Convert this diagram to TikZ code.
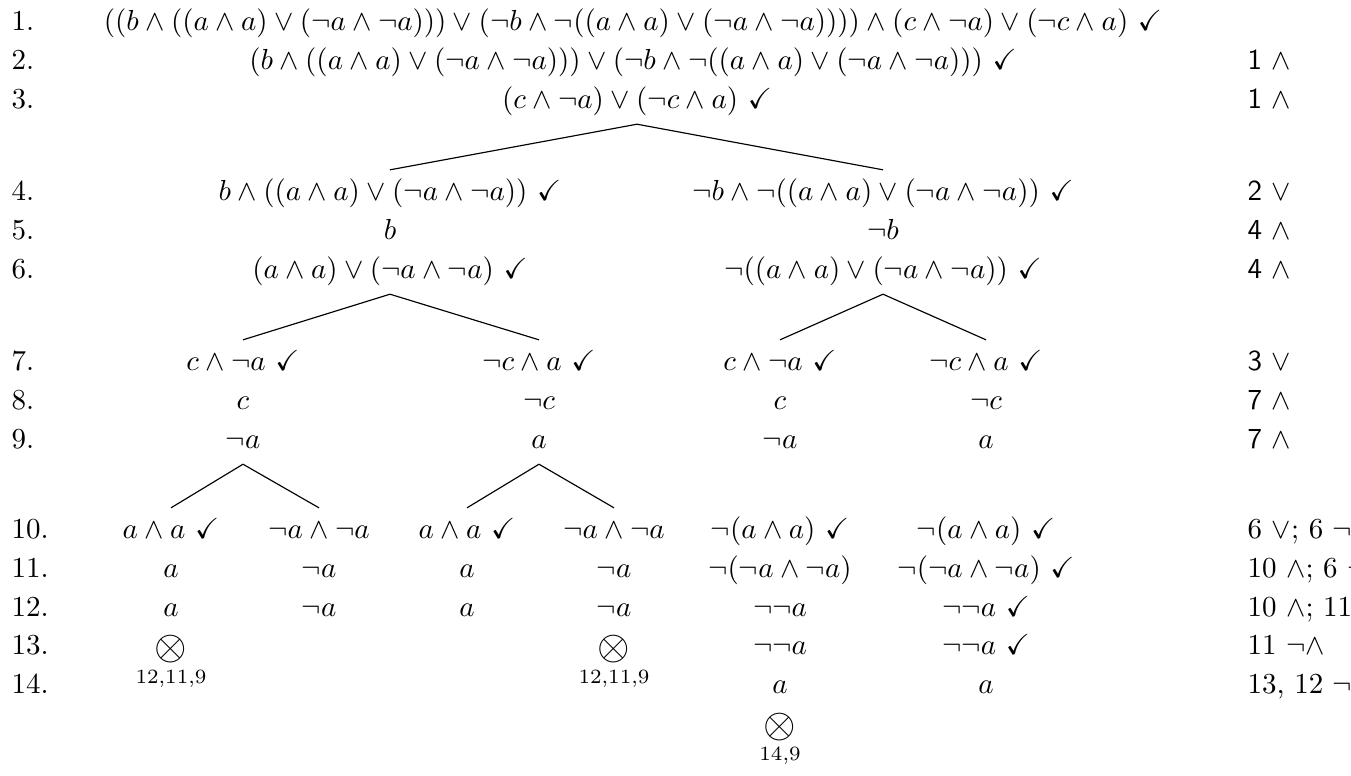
\documentclass[tikz,border=0pt]{standalone}
\usepackage{amssymb}

\begin{document}
\begin{tikzpicture}[x=3.45pt, y=-3.45pt,
  fml/.style={inner sep=0pt, outer ysep=3pt, text height=0.75em, text depth=0.25em},
  rownum/.style={anchor=west, inner sep=0pt, text height=0.75em, text depth=0.25em},
  rulebox/.style={anchor=west, inner sep=0pt, text height=0.75em, text depth=0.25em},
  closed/.style={inner sep=0pt, font=\Large},
  refs/.style={inner sep=0pt, font=\scriptsize}]

\useasboundingbox (0,0) rectangle (135.1,77.5);

%%%%%%%%%%%%%%%%%%%%%%%%%%%%%%%%%%%%%%%%%%%%%%%%%%%%%%%%%%%%%%%%
% Line numbers
%%%%%%%%%%%%%%%%%%%%%%%%%%%%%%%%%%%%%%%%%%%%%%%%%%%%%%%%%%%%%%%%

\node[rownum] (num1) at (1.1,2.3) {1.};
\node[rownum] (num2) at (1.1,6.2) {2.};
\node[rownum] (num3) at (1.1,10.1) {3.};
\node[rownum] (num4) at (1.1,19.3) {4.};
\node[rownum] (num5) at (1.1,23.2) {5.};
\node[rownum] (num6) at (1.1,27.1) {6.};
\node[rownum] (num7) at (1.1,36.3) {7.};
\node[rownum] (num8) at (1.1,40.2) {8.};
\node[rownum] (num9) at (1.1,44.1) {9.};
\node[rownum] (num10) at (1.1,53.1) {10.};
\node[rownum] (num11) at (1.1,57.0) {11.};
\node[rownum] (num12) at (1.1,60.9) {12.};
\node[rownum] (num13) at (1.1,64.7) {13.};
\node[rownum] (num14) at (1.1,68.6) {14.};

%%%%%%%%%%%%%%%%%%%%%%%%%%%%%%%%%%%%%%%%%%%%%%%%%%%%%%%%%%%%%%%%
% Trunk (lines 1-3)
%%%%%%%%%%%%%%%%%%%%%%%%%%%%%%%%%%%%%%%%%%%%%%%%%%%%%%%%%%%%%%%%

\node[fml] (t1) at (63.3,2.3) {$((b \wedge ((a \wedge a) \vee (\neg a \wedge \neg a))) \vee (\neg b \wedge \neg((a \wedge a) \vee (\neg a \wedge \neg a)))) \wedge (c \wedge \neg a) \vee (\neg c \wedge a)\ \checkmark$};
\node[fml] (t2) at (63.3,6.2) {$(b \wedge ((a \wedge a) \vee (\neg a \wedge \neg a))) \vee (\neg b \wedge \neg((a \wedge a) \vee (\neg a \wedge \neg a)))\ \checkmark$};
\node[fml] (t3) at (63.7,10.1) {$(c \wedge \neg a) \vee (\neg c \wedge a)\ \checkmark$};

%%%%%%%%%%%%%%%%%%%%%%%%%%%%%%%%%%%%%%%%%%%%%%%%%%%%%%%%%%%%%%%%
% First split (lines 4-6)
%%%%%%%%%%%%%%%%%%%%%%%%%%%%%%%%%%%%%%%%%%%%%%%%%%%%%%%%%%%%%%%%

\node[fml] (l4) at (39.0,19.3) {$b \wedge ((a \wedge a) \vee (\neg a \wedge \neg a))\ \checkmark$};
\node[fml] (l5) at (39.0,23.2) {$b$};
\node[fml] (l6) at (39.0,27.1) {$(a \wedge a) \vee (\neg a \wedge \neg a)\ \checkmark$};

\node[fml] (r4) at (88.3,19.3) {$\neg b \wedge \neg((a \wedge a) \vee (\neg a \wedge \neg a))\ \checkmark$};
\node[fml] (r5) at (88.3,23.2) {$\neg b$};
\node[fml] (r6) at (88.3,27.1) {$\neg((a \wedge a) \vee (\neg a \wedge \neg a))\ \checkmark$};

% Edges
\draw (t3.south) -- (l4.north);
\draw (t3.south) -- (r4.north);

%%%%%%%%%%%%%%%%%%%%%%%%%%%%%%%%%%%%%%%%%%%%%%%%%%%%%%%%%%%%%%%%
% Second split (lines 7-9)
%%%%%%%%%%%%%%%%%%%%%%%%%%%%%%%%%%%%%%%%%%%%%%%%%%%%%%%%%%%%%%%%

\node[fml] (ll7) at (24.3,36.3) {$c \wedge \neg a\ \checkmark$};
\node[fml] (ll8) at (24.3,40.2) {$c$};
\node[fml] (ll9) at (24.3,44.1) {$\neg a$};

\node[fml] (lr7) at (53.9,36.3) {$\neg c \wedge a\ \checkmark$};
\node[fml] (lr8) at (53.9,40.2) {$\neg c$};
\node[fml] (lr9) at (53.9,44.1) {$a$};

\node[fml] (rl7) at (78.0,36.3) {$c \wedge \neg a\ \checkmark$};
\node[fml] (rl8) at (78.0,40.2) {$c$};
\node[fml] (rl9) at (78.0,44.1) {$\neg a$};

\node[fml] (rr7) at (98.6,36.3) {$\neg c \wedge a\ \checkmark$};
\node[fml] (rr8) at (98.6,40.2) {$\neg c$};
\node[fml] (rr9) at (98.6,44.1) {$a$};

% Edges
\draw (l6.south) -- (ll7.north);
\draw (l6.south) -- (lr7.north);
\draw (r6.south) -- (rl7.north);
\draw (r6.south) -- (rr7.north);

%%%%%%%%%%%%%%%%%%%%%%%%%%%%%%%%%%%%%%%%%%%%%%%%%%%%%%%%%%%%%%%%
% Third split (lines 10-14)
%%%%%%%%%%%%%%%%%%%%%%%%%%%%%%%%%%%%%%%%%%%%%%%%%%%%%%%%%%%%%%%%

% under c, not a
\node[fml] (b1_10) at (17.1,53.1) {$a \wedge a\ \checkmark$};
\node[fml] (b1_11) at (17.1,57.0) {$a$};
\node[fml] (b1_12) at (17.1,60.9) {$a$};
\node[closed] (b1_x) at (17.1,64.9) {$\otimes$};
\node[refs] (b1_ref) at (17.1,67.9) {12,11,9};

\node[fml] (b2_10) at (31.9,53.1) {$\neg a \wedge \neg a$};
\node[fml] (b2_11) at (31.9,57.0) {$\neg a$};
\node[fml] (b2_12) at (31.9,60.9) {$\neg a$};

% under not c, a
\node[fml] (b3_10) at (46.7,53.1) {$a \wedge a\ \checkmark$};
\node[fml] (b3_11) at (46.7,57.0) {$a$};
\node[fml] (b3_12) at (46.7,60.9) {$a$};

\node[fml] (b4_10) at (61.4,53.1) {$\neg a \wedge \neg a$};
\node[fml] (b4_11) at (61.4,57.0) {$\neg a$};
\node[fml] (b4_12) at (61.4,60.9) {$\neg a$};
\node[closed] (b4_x) at (61.4,64.9) {$\otimes$};
\node[refs] (b4_ref) at (61.4,67.9) {12,11,9};

% right half, no split
\node[fml] (b5_10) at (78.0,53.1) {$\neg(a \wedge a)\ \checkmark$};
\node[fml] (b5_11) at (78.0,57.0) {$\neg(\neg a \wedge \neg a)$};
\node[fml] (b5_12) at (78.0,60.9) {$\neg\neg a$};
\node[fml] (b5_13) at (78.0,64.7) {$\neg\neg a$};
\node[fml] (b5_14) at (78.0,68.6) {$a$};
\node[closed] (b5_x) at (78.0,72.7) {$\otimes$};
\node[refs] (b5_ref) at (78.0,75.6) {14,9};

\node[fml] (b6_10) at (98.6,53.1) {$\neg(a \wedge a)\ \checkmark$};
\node[fml] (b6_11) at (98.6,57.0) {$\neg(\neg a \wedge \neg a)\ \checkmark$};
\node[fml] (b6_12) at (98.6,60.9) {$\neg\neg a\ \checkmark$};
\node[fml] (b6_13) at (98.6,64.7) {$\neg\neg a\ \checkmark$};
\node[fml] (b6_14) at (98.6,68.6) {$a$};

% Edges
\draw (ll9.south) -- (b1_10.north);
\draw (ll9.south) -- (b2_10.north);
\draw (lr9.south) -- (b3_10.north);
\draw (lr9.south) -- (b4_10.north);

%%%%%%%%%%%%%%%%%%%%%%%%%%%%%%%%%%%%%%%%%%%%%%%%%%%%%%%%%%%%%%%%
% Justifications
%%%%%%%%%%%%%%%%%%%%%%%%%%%%%%%%%%%%%%%%%%%%%%%%%%%%%%%%%%%%%%%%

\node[rulebox] (just2) at (124.7,6.2) {\textsf{1} $\wedge$};
\node[rulebox] (just3) at (124.7,10.1) {\textsf{1} $\wedge$};
\node[rulebox] (just4) at (124.7,19.3) {\textsf{2} $\vee$};
\node[rulebox] (just5) at (124.7,23.2) {\textsf{4} $\wedge$};
\node[rulebox] (just6) at (124.7,27.1) {\textsf{4} $\wedge$};
\node[rulebox] (just7) at (124.7,36.3) {\textsf{3} $\vee$};
\node[rulebox] (just8) at (124.7,40.2) {\textsf{7} $\wedge$};
\node[rulebox] (just9) at (124.7,44.1) {\textsf{7} $\wedge$};
\node[rulebox] (just10) at (124.7,53.1) {6 $\vee$; 6 $\neg\vee$};
\node[rulebox] (just11) at (124.7,57.0) {10 $\wedge$; 6 $\neg\vee$};
\node[rulebox] (just12) at (124.7,60.9) {10 $\wedge$; 11 $\neg\wedge$};
\node[rulebox] (just13) at (124.7,64.7) {11 $\neg\wedge$};
\node[rulebox] (just14) at (124.7,68.6) {13, 12 $\neg\neg$};

\end{tikzpicture}
\end{document}
